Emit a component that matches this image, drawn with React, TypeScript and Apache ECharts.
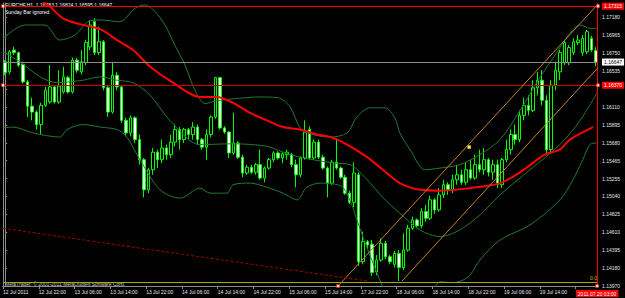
import React, { useEffect, useRef } from 'react';
import * as echarts from 'echarts';

const timeLabels = ['12 Jul 2011', '12 Jul 22:00', '13 Jul 06:00', '13 Jul 14:00', '13 Jul 22:00', '14 Jul 06:00', '14 Jul 14:00', '14 Jul 22:00', '15 Jul 06:00', '15 Jul 14:00', '17 Jul 22:00', '18 Jul 06:00', '18 Jul 14:00', '18 Jul 22:00', '19 Jul 06:00', '19 Jul 14:00'];
// the 1.16320 tick label is covered by the red level box in the reference
const priceLabels = ['1.13970', '1.14180', '1.14395', '1.14610', '1.14825', '1.15040', '1.15255', '1.15465', '1.15680', '1.15895', '1.16110', '', '1.16535', '1.16750', '1.16965', '1.17180'];
const yMin = 1.1397;
const yMax = 1.17353;
const yStep = 0.00214;
const labelEvery = 8;

// [open, close, low, high]
const candles = [
  [1.1665, 1.1652, 1.1649, 1.1667], [1.1653, 1.1677, 1.1650, 1.1679], [1.1679, 1.1676, 1.1673, 1.1683], [1.1676, 1.1661, 1.1659, 1.1677],
  [1.1662, 1.1641, 1.1639, 1.1665], [1.1641, 1.1612, 1.1599, 1.1643], [1.1612, 1.1605, 1.1595, 1.1622], [1.1605, 1.1590, 1.1584, 1.1607],
  [1.1590, 1.1613, 1.1578, 1.1616], [1.1613, 1.1631, 1.1611, 1.1635], [1.1617, 1.1635, 1.1615, 1.1661], [1.1635, 1.1617, 1.1615, 1.1637],
  [1.1617, 1.1636, 1.1615, 1.1655], [1.1629, 1.1647, 1.1627, 1.1659], [1.1646, 1.1629, 1.1627, 1.1648], [1.1629, 1.1667, 1.1627, 1.1670],
  [1.1667, 1.1655, 1.1652, 1.1670], [1.1653, 1.1665, 1.1650, 1.1679], [1.1664, 1.1688, 1.1661, 1.1691], [1.1683, 1.1709, 1.1679, 1.1715],
  [1.1713, 1.1676, 1.1673, 1.1717], [1.1676, 1.1689, 1.1673, 1.1707], [1.1689, 1.1634, 1.1631, 1.1691], [1.1634, 1.1605, 1.1599, 1.1637],
  [1.1605, 1.1649, 1.1603, 1.1665], [1.1649, 1.1635, 1.1631, 1.1653], [1.1635, 1.1595, 1.1592, 1.1637], [1.1595, 1.1580, 1.1576, 1.1598],
  [1.1580, 1.1598, 1.1576, 1.1601], [1.1598, 1.1572, 1.1568, 1.1600], [1.1572, 1.1548, 1.1542, 1.1578], [1.1548, 1.1512, 1.1503, 1.1550],
  [1.1512, 1.1536, 1.1508, 1.1538], [1.1536, 1.1557, 1.1530, 1.1562], [1.1557, 1.1548, 1.1538, 1.1560], [1.1548, 1.1562, 1.1544, 1.1572],
  [1.1562, 1.1554, 1.1548, 1.1566], [1.1554, 1.1569, 1.1550, 1.1578], [1.1569, 1.1584, 1.1564, 1.1590], [1.1584, 1.1572, 1.1560, 1.1587],
  [1.1572, 1.1584, 1.1568, 1.1586], [1.1584, 1.1578, 1.1572, 1.1586], [1.1578, 1.1587, 1.1572, 1.1593], [1.1587, 1.1572, 1.1566, 1.1590],
  [1.1572, 1.1563, 1.1560, 1.1574], [1.1563, 1.1578, 1.1548, 1.1584], [1.1578, 1.1599, 1.1575, 1.1601], [1.1599, 1.1646, 1.1597, 1.1647],
  [1.1646, 1.1586, 1.1584, 1.1647], [1.1586, 1.1581, 1.1579, 1.1588], [1.1581, 1.1556, 1.1550, 1.1582], [1.1556, 1.1568, 1.1554, 1.1604],
  [1.1568, 1.1551, 1.1549, 1.1570], [1.1551, 1.1532, 1.1527, 1.1554], [1.1532, 1.1539, 1.1530, 1.1542], [1.1539, 1.1533, 1.1531, 1.1542],
  [1.1533, 1.1542, 1.1530, 1.1544], [1.1542, 1.1526, 1.1524, 1.1560], [1.1526, 1.1538, 1.1521, 1.1540], [1.1538, 1.1548, 1.1536, 1.1550],
  [1.1548, 1.1556, 1.1545, 1.1558], [1.1556, 1.1550, 1.1548, 1.1558], [1.1550, 1.1555, 1.1544, 1.1557], [1.1554, 1.1557, 1.1548, 1.1560],
  [1.1554, 1.1542, 1.1539, 1.1556], [1.1542, 1.1530, 1.1515, 1.1548], [1.1530, 1.1550, 1.1527, 1.1552], [1.1550, 1.1581, 1.1548, 1.1595],
  [1.1584, 1.1550, 1.1548, 1.1588], [1.1550, 1.1569, 1.1548, 1.1572], [1.1569, 1.1551, 1.1549, 1.1572], [1.1551, 1.1538, 1.1536, 1.1554],
  [1.1538, 1.1520, 1.1503, 1.1540], [1.1520, 1.1545, 1.1518, 1.1548], [1.1545, 1.1538, 1.1536, 1.1572], [1.1538, 1.1527, 1.1525, 1.1540],
  [1.1527, 1.1508, 1.1506, 1.1530], [1.1508, 1.1497, 1.1495, 1.1511], [1.1497, 1.1532, 1.1491, 1.1545], [1.1530, 1.1426, 1.1421, 1.1533],
  [1.1426, 1.1450, 1.1423, 1.1462], [1.1450, 1.1446, 1.1442, 1.1452], [1.1447, 1.1413, 1.1409, 1.1452], [1.1414, 1.1428, 1.1410, 1.1434],
  [1.1428, 1.1448, 1.1426, 1.1454], [1.1448, 1.1432, 1.1429, 1.1451], [1.1432, 1.1426, 1.1423, 1.1434], [1.1423, 1.1436, 1.1419, 1.1439],
  [1.1436, 1.1419, 1.1403, 1.1440], [1.1419, 1.1440, 1.1416, 1.1460], [1.1440, 1.1466, 1.1438, 1.1470], [1.1466, 1.1476, 1.1464, 1.1480],
  [1.1476, 1.1469, 1.1466, 1.1478], [1.1469, 1.1486, 1.1466, 1.1490], [1.1486, 1.1478, 1.1474, 1.1494], [1.1478, 1.1500, 1.1476, 1.1505],
  [1.1500, 1.1488, 1.1483, 1.1502], [1.1488, 1.1506, 1.1486, 1.1514], [1.1506, 1.1518, 1.1502, 1.1524], [1.1518, 1.1512, 1.1506, 1.1521],
  [1.1512, 1.1524, 1.1508, 1.1530], [1.1524, 1.1530, 1.1518, 1.1542], [1.1530, 1.1521, 1.1518, 1.1536], [1.1521, 1.1536, 1.1518, 1.1545],
  [1.1536, 1.1526, 1.1524, 1.1548], [1.1526, 1.1542, 1.1524, 1.1554], [1.1542, 1.1536, 1.1533, 1.1560], [1.1536, 1.1548, 1.1530, 1.1562],
  [1.1548, 1.1533, 1.1528, 1.1550], [1.1533, 1.1542, 1.1524, 1.1548], [1.1542, 1.1518, 1.1514, 1.1548], [1.1518, 1.1548, 1.1514, 1.1550],
  [1.1548, 1.1560, 1.1545, 1.1572], [1.1560, 1.1578, 1.1554, 1.1584], [1.1578, 1.1572, 1.1566, 1.1590], [1.1572, 1.1601, 1.1569, 1.1607],
  [1.1601, 1.1613, 1.1595, 1.1622], [1.1613, 1.1607, 1.1601, 1.1625], [1.1607, 1.1634, 1.1605, 1.1643], [1.1634, 1.1643, 1.1625, 1.1653],
  [1.1643, 1.1619, 1.1613, 1.1655], [1.1619, 1.1560, 1.1554, 1.1625], [1.1560, 1.1637, 1.1557, 1.1643], [1.1637, 1.1655, 1.1631, 1.1665],
  [1.1653, 1.1676, 1.1643, 1.1679], [1.1664, 1.1688, 1.1661, 1.1691], [1.1664, 1.1682, 1.1661, 1.1685], [1.1676, 1.1689, 1.1673, 1.1693],
  [1.1688, 1.1691, 1.1685, 1.1697], [1.1676, 1.1693, 1.1672, 1.1697], [1.1677, 1.1701, 1.1674, 1.1703], [1.1693, 1.1679, 1.1677, 1.1696],
  [1.16783, 1.16647, 1.16595, 1.16824],
];

// [bar index, price]
const bbUpper = [[-0.5, 1.1693], [4.4, 1.1709], [8.9, 1.1709], [12.2, 1.1691], [15.6, 1.1697], [18.5, 1.1713], [21.2, 1.1715], [25.6, 1.1713], [29, 1.1729], [31.2, 1.1733], [33.5, 1.1725], [35.7, 1.1709], [37.9, 1.1685], [40.2, 1.1661], [42.4, 1.1631], [44.7, 1.1615], [46.9, 1.1618], [51.4, 1.1621], [56.9, 1.1623], [61, 1.1622], [63.7, 1.1611], [65.9, 1.1586], [68.1, 1.1579], [72.6, 1.1575], [76.4, 1.1580], [78.6, 1.1599], [81.5, 1.1610], [84.9, 1.1610], [87.1, 1.1598], [88.2, 1.1580], [90.5, 1.1560], [93.8, 1.1536], [97.2, 1.1538], [101.6, 1.1542], [106.1, 1.1554], [110.6, 1.1572], [115.1, 1.1607], [119.5, 1.1646], [122.9, 1.1673], [126.2, 1.1699], [128.5, 1.1709], [130.7, 1.1705], [132.3, 1.1705]];
const bbMiddle = [[-0.5, 1.1677], [3.3, 1.1665], [7.8, 1.1647], [11.6, 1.1640], [17.4, 1.1643], [21.2, 1.1647], [25, 1.1643], [28.6, 1.1640], [32.4, 1.1625], [36.8, 1.1595], [43.5, 1.1566], [50.9, 1.1567], [58.5, 1.1564], [62.1, 1.1557], [65.9, 1.1551], [73.3, 1.1544], [77.1, 1.1542], [80.9, 1.1524], [84.4, 1.1503], [88.2, 1.1484], [92.7, 1.1464], [97.2, 1.1456], [101.6, 1.1464], [106.1, 1.1482], [110.6, 1.1506], [117.3, 1.1536], [124, 1.1566], [128.5, 1.1595], [132.3, 1.1628]];
const bbLower = [[-0.5, 1.1586], [1.7, 1.1587], [6.2, 1.1580], [12.2, 1.1575], [13.8, 1.1584], [17.4, 1.1590], [21.2, 1.1587], [25, 1.1584], [27.2, 1.1575], [30.1, 1.1548], [34.6, 1.1512], [39.1, 1.1502], [43.5, 1.1514], [45.8, 1.1508], [49.6, 1.1508], [50.9, 1.1518], [54.7, 1.1520], [58.5, 1.1515], [62.1, 1.1508], [65.2, 1.1500], [67.4, 1.1515], [70.4, 1.1520], [73.3, 1.1519], [75.5, 1.1515], [77.7, 1.1491], [78.6, 1.1476], [81.5, 1.1434], [84.4, 1.1396], [87.1, 1.1368], [90.5, 1.1362], [93.8, 1.1380], [96.1, 1.1396], [97.2, 1.1402], [100.1, 1.1401], [102.3, 1.1404], [103.9, 1.1410], [106.1, 1.1428], [110.6, 1.1452], [117.3, 1.1470], [124, 1.1500], [126.9, 1.1524], [129.1, 1.1548], [130.7, 1.1566], [132.3, 1.1568]];
const movingAverage = [[6.7, 1.1745], [8.9, 1.1735], [10, 1.1731], [12.9, 1.1717], [16.7, 1.1710], [21.2, 1.1704], [25, 1.1691], [28.6, 1.1679], [32.4, 1.1659], [37.5, 1.1640], [43.5, 1.1623], [47.3, 1.1623], [50.9, 1.1616], [54.7, 1.1604], [58.5, 1.1595], [62.1, 1.1587], [65.9, 1.1584], [69.7, 1.1578], [73.3, 1.1574], [77.1, 1.1564], [80.9, 1.1551], [84.4, 1.1536], [88.2, 1.1520], [92.7, 1.1512], [97.2, 1.1511], [103.9, 1.1514], [110.6, 1.1520], [115.1, 1.1533], [120.6, 1.1554], [124, 1.1560], [126.2, 1.1572], [131.4, 1.1587]];

const trendUpper = [[74.4, 1.1397], [132.5, 1.1734]];
const trendUpperMid = [103.7, 1.1563];
const trendLower = [[88.7, 1.1403], [132.5, 1.1658]];
const dashedTrend = [[-0.5, 1.1466], [80.9, 1.1403]];

const resistanceLevel = 1.17315;
const supportLevel = 1.1637;
const bidPrice = 1.16647;
const fiboZero = 1.1402;
const cursorBar = 132.3;
const cursorLabel = '2011.07.20 03:00';
const titleText = 'EURCHF,H1  1.16783 1.16824 1.16595 1.16647';

const FONT = 'Liberation Sans';

export default function App() {
  const ref = useRef<HTMLDivElement>(null);
  useEffect(() => {
    if (!ref.current) return;
    const chart = echarts.init(ref.current, undefined, { renderer: 'svg' });
    const lineSeries = (data: number[][], color: string, width: number, z: number) => ({
      type: 'line', xAxisIndex: 1, yAxisIndex: 0, data, symbol: 'none', showSymbol: false,
      smooth: 0.3, clip: true, silent: true, z, lineStyle: { color, width },
    });
    const boxLabel = (text: string, bg: string, fg: string, position: string) => ({
      show: true, position, formatter: text, backgroundColor: bg, color: fg, fontSize: 5,
      fontFamily: FONT, padding: [1, 2, 1, 2], distance: 4,
    });
    const option: any = {
      animation: false,
      backgroundColor: '#000000',
      textStyle: { fontFamily: FONT },
      grid: { left: 3, right: 27, top: 3, bottom: 12 },
      xAxis: [
        {
          type: 'category', data: candles.map((_, i) => String(i)), boundaryGap: true,
          axisLine: { lineStyle: { color: '#8c8c8c' } },
          axisTick: { show: false }, axisLabel: { show: false }, splitLine: { show: false },
        },
        {
          type: 'value', min: -0.5, max: candles.length - 0.5, interval: labelEvery, position: 'bottom',
          axisLine: { show: true, lineStyle: { color: '#8c8c8c' } },
          axisTick: { show: true, length: 3, lineStyle: { color: '#8c8c8c' } },
          axisLabel: {
            color: '#e6e6e6', fontSize: 5, fontFamily: FONT, align: 'left', margin: 3, showMaxLabel: false,
            formatter: (v: number) => {
              const k = (v + 0.5) / labelEvery;
              const r = Math.round(k);
              return Math.abs(k - r) < 0.01 && r < timeLabels.length ? timeLabels[r] : '';
            },
          },
          splitLine: { show: false },
        },
      ],
      yAxis: [
        {
          type: 'value', position: 'right', min: yMin, max: yMax, interval: yStep, offset: 2,
          axisLine: { show: true, lineStyle: { color: '#8c8c8c' } },
          axisTick: { show: true, length: 2, lineStyle: { color: '#8c8c8c' } },
          axisLabel: {
            color: '#e6e6e6', fontSize: 5, fontFamily: FONT, margin: 2, showMaxLabel: false,
            formatter: (v: number) => {
              const k = (v - yMin) / yStep;
              const r = Math.round(k);
              return Math.abs(k - r) < 0.05 && r < priceLabels.length ? priceLabels[r] : '';
            },
          },
          splitLine: { show: false },
        },
        {
          type: 'value', position: 'left', min: yMin, max: yMax,
          axisLine: { show: true, lineStyle: { color: '#8c8c8c' } },
          axisTick: { show: false }, axisLabel: { show: false }, splitLine: { show: false },
        },
      ],
      series: [
        {
          type: 'candlestick', xAxisIndex: 0, yAxisIndex: 0, data: candles, barWidth: 3, z: 2,
          itemStyle: { color: '#000000', color0: '#ffffff', borderColor: '#00ff00', borderColor0: '#00ff00', borderWidth: 1 },
        },
        lineSeries(bbUpper, '#1f7a33', 1, 3),
        lineSeries(bbMiddle, '#1f7a33', 1, 3),
        lineSeries(bbLower, '#1f7a33', 1, 3),
        lineSeries(movingAverage, '#ff0000', 2, 4),
        {
          type: 'line', xAxisIndex: 1, yAxisIndex: 0, data: [], z: 5, silent: true,
          markLine: {
            silent: true, symbol: ['none', 'none'], animation: false, precision: 6,
            data: [
              { yAxis: fiboZero, lineStyle: { color: '#a8a800', width: 1, type: 'solid' }, label: { show: true, position: 'insideEndTop', formatter: '0.0', color: '#c8c800', fontSize: 5, fontFamily: FONT, distance: 1 } },
              { yAxis: bidPrice, lineStyle: { color: '#8c8c8c', width: 1, type: 'solid' }, label: boxLabel(bidPrice.toFixed(5), '#ffffff', '#000000', 'end') },
              { yAxis: supportLevel, lineStyle: { color: '#d00000', width: 1, type: 'solid' }, label: boxLabel(supportLevel.toFixed(5), '#ff0000', '#ffffff', 'end') },
              { yAxis: resistanceLevel, lineStyle: { color: '#ff0000', width: 1, type: 'solid' }, label: boxLabel(resistanceLevel.toFixed(5), '#ff0000', '#ffffff', 'end') },
              { xAxis: cursorBar, lineStyle: { color: '#ff0000', width: 1, type: 'solid' }, label: boxLabel(cursorLabel, '#ff0000', '#ffffff', 'start') },
              [{ coord: trendUpper[0], lineStyle: { color: '#c8802a', width: 1, type: 'solid' }, label: { show: false } }, { coord: trendUpper[1] }],
              [{ coord: trendLower[0], lineStyle: { color: '#c8802a', width: 1, type: 'solid' }, label: { show: false } }, { coord: trendLower[1] }],
              [{ coord: dashedTrend[0], lineStyle: { color: '#a00000', width: 1, type: [3, 2] }, label: { show: false } }, { coord: dashedTrend[1] }],
            ],
          },
          markPoint: {
            silent: true, symbol: 'rect', symbolSize: 3, label: { show: false },
            itemStyle: { color: '#ffe6c0', borderColor: '#ff0000', borderWidth: 0.5 },
            data: [
              { coord: [-0.5, resistanceLevel] }, { coord: [132.5, resistanceLevel] },
              { coord: [-0.5, supportLevel] }, { coord: [132.5, supportLevel] },
              { coord: trendUpper[0] }, { coord: [cursorBar, yMin] },
              { coord: trendUpperMid, itemStyle: { color: '#ffff60', borderColor: '#c8c800', borderWidth: 0.5 } },
            ],
          },
        },
      ],
      graphic: [
        { type: 'text', left: 5, top: 2, style: { text: titleText, fill: '#ffffff', fontSize: 5, fontFamily: FONT } },
        { type: 'text', left: 5, top: 9, style: { text: 'Sunday Bar ignored', fill: '#ffffff', fontSize: 5, fontFamily: FONT } },
        { type: 'text', left: 5, top: 281, style: { text: 'MetaTrader, © 2001-2011 MetaQuotes Software Corp.', fill: '#c8c8c8', fontSize: 5, fontFamily: FONT } },
      ],
    };
    chart.setOption(option);
    return () => chart.dispose();
  }, []);
  return <div ref={ref} style={{ position: 'fixed', left: 0, top: 0, width: 625, height: 298, background: '#000' }} />;
}
